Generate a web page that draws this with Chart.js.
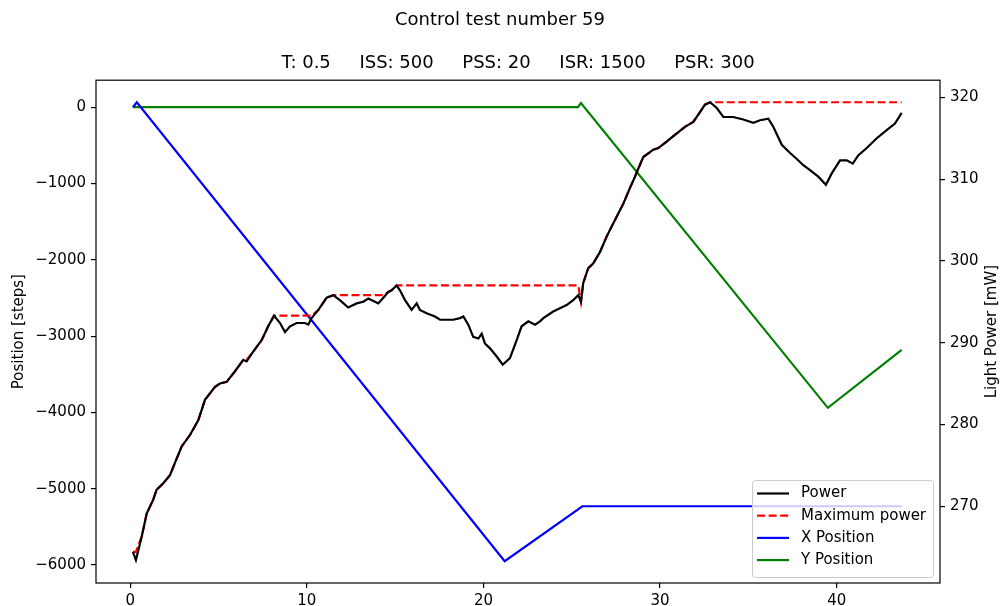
<!DOCTYPE html>
<html>
<head>
<meta charset="utf-8">
<script src="https://cdn.jsdelivr.net/npm/chart.js@4.4.0/dist/chart.umd.min.js"></script>
<style>
  html, body { margin: 0; padding: 0; background: #fff; }
  #wrap { width: 1000px; height: 606px; }
</style>
</head>
<body>
<div id="wrap"><canvas id="testChart"></canvas></div>
<script>
const chartTitle = 'Control test number 59';
const chartSubtitle = 'T: 0.5     ISS: 500     PSS: 20     ISR: 1500     PSR: 300';
const posAxisTitle = 'Position [steps]';
const powerAxisTitle = 'Light Power [mW]';

const xTicks = [0, 10, 20, 30, 40];
const posTicks = [0, -1000, -2000, -3000, -4000, -5000, -6000];
const powerTicks = [270, 280, 290, 300, 310, 320];

// power readings (right axis)
const powerTime = [0.15, 0.32, 0.65, 0.93, 1.30, 1.49, 1.87, 2.25, 2.53, 2.91,
  3.38, 3.85, 4.23, 4.80, 5.08, 5.46, 5.93, 6.40, 6.59, 6.96,
  7.44, 7.81, 8.14, 8.48, 8.76, 9.05, 9.42, 9.89, 10.08, 10.27,
  10.65, 11.12, 11.49, 11.87, 12.34, 12.82, 13.19, 13.48, 13.86, 14.04,
  14.33, 14.61, 14.80, 15.08, 15.27, 15.56, 15.93, 16.22, 16.40, 16.78,
  17.25, 17.54, 17.92, 18.29, 18.67, 18.86, 19.14, 19.42, 19.71, 19.90,
  20.08, 20.37, 20.75, 21.09, 21.50, 21.88, 22.16, 22.54, 22.92, 23.20,
  23.39, 23.95, 24.33, 24.71, 25.08, 25.37, 25.52, 25.65, 25.93, 26.22,
  26.60, 26.98, 27.26, 27.54, 27.92, 28.29, 28.58, 28.77, 29.05, 29.43,
  29.61, 29.90, 30.37, 30.84, 31.41, 31.88, 32.26, 32.54, 32.83, 33.21,
  33.58, 34.14, 34.71, 35.28, 35.66, 36.13, 36.41, 36.89, 37.36, 37.73,
  38.11, 38.49, 38.96, 39.39, 39.72, 40.19, 40.57, 40.91, 41.22, 41.70,
  42.27, 42.83, 43.30, 43.68];

const power = [264.4, 263.4, 266.3, 269.1, 270.8, 272.0, 272.8, 273.8, 275.3, 277.3,
  278.7, 280.5, 283.0, 284.6, 285.0, 285.2, 286.5, 287.9, 287.7, 288.9,
  290.3, 292.0, 293.3, 292.4, 291.3, 292.0, 292.4, 292.4, 292.2, 293.0,
  294.0, 295.5, 295.8, 295.2, 294.3, 294.8, 295.0, 295.4, 295.0, 294.8,
  295.5, 296.2, 296.4, 297.0, 296.4, 295.2, 294.0, 294.8, 294.0, 293.6,
  293.2, 292.8, 292.8, 292.8, 293.0, 293.2, 292.2, 290.7, 290.5, 291.1,
  289.9, 289.3, 288.3, 287.3, 288.1, 290.3, 292.0, 292.6, 292.2, 292.6,
  293.0, 293.8, 294.2, 294.6, 295.2, 295.8, 295.0, 297.3, 299.1, 299.7,
  301.1, 303.0, 304.2, 305.4, 307.0, 308.9, 310.3, 311.3, 312.7, 313.3,
  313.6, 313.8, 314.6, 315.4, 316.4, 317.0, 318.2, 319.1, 319.4, 318.7,
  317.6, 317.6, 317.3, 316.9, 317.2, 317.4, 316.4, 314.2, 313.2, 312.5,
  311.7, 311.1, 310.3, 309.3, 310.7, 312.3, 312.3, 311.9, 312.9, 313.8,
  315.0, 316.0, 316.8, 318.1];

const maxPower = [264.4, 264.4, 266.3, 269.1, 270.8, 272.0, 272.8, 273.8, 275.3, 277.3,
  278.7, 280.5, 283.0, 284.6, 285.0, 285.2, 286.5, 287.9, 287.9, 288.9,
  290.3, 292.0, 293.3, 293.3, 293.3, 293.3, 293.3, 293.3, 293.3, 293.3,
  294.0, 295.5, 295.8, 295.8, 295.8, 295.8, 295.8, 295.8, 295.8, 295.8,
  295.8, 296.2, 296.4, 297.0, 297.0, 297.0, 297.0, 297.0, 297.0, 297.0,
  297.0, 297.0, 297.0, 297.0, 297.0, 297.0, 297.0, 297.0, 297.0, 297.0,
  297.0, 297.0, 297.0, 297.0, 297.0, 297.0, 297.0, 297.0, 297.0, 297.0,
  297.0, 297.0, 297.0, 297.0, 297.0, 297.0, 295.0, 297.3, 299.1, 299.7,
  301.1, 303.0, 304.2, 305.4, 307.0, 308.9, 310.3, 311.3, 312.7, 313.3,
  313.6, 313.8, 314.6, 315.4, 316.4, 317.0, 318.2, 319.1, 319.4, 319.4,
  319.4, 319.4, 319.4, 319.4, 319.4, 319.4, 319.4, 319.4, 319.4, 319.4,
  319.4, 319.4, 319.4, 319.4, 319.4, 319.4, 319.4, 319.4, 319.4, 319.4,
  319.4, 319.4, 319.4, 319.4];

// stage positions (left axis)
const xPosTime = [0.15, 0.37, 21.2, 25.6, 43.68];
const xPos = [0, 65, -5950, -5230, -5230];
const yPosTime = [0.15, 25.35, 25.52, 39.5, 43.68];
const yPos = [0, 0, 55, -3940, -3180];

const FONT = "'DejaVu Sans', sans-serif";

function pairs(xs, ys) {
  return xs.map((t, i) => ({ x: t, y: ys[i] }));
}

function fmtTick(v) {
  return String(v).replace('-', '\u2212');
}

function setTicks(list) {
  return scale => { scale.ticks = list.map(v => ({ value: v })); };
}

const frame = {
  id: 'frame',
  afterDatasetsDraw(chart) {
    const { ctx, chartArea: a } = chart;
    ctx.save();
    ctx.strokeStyle = '#000';
    ctx.lineWidth = 1.2;
    ctx.strokeRect(a.left, a.top, a.right - a.left, a.bottom - a.top);
    ctx.restore();
  }
};

const legendBox = {
  id: 'legendBox',
  afterDatasetsDraw(chart) {
    const { ctx, chartArea } = chart;
    const w = 181, h = 97;
    const x0 = chartArea.right - 7 - w;
    const y0 = chartArea.bottom - 6 - h;
    ctx.save();
    ctx.beginPath();
    ctx.roundRect(x0 + 0.5, y0 + 0.5, w, h, 3);
    ctx.fillStyle = 'rgba(255,255,255,0.8)';
    ctx.fill();
    ctx.strokeStyle = '#cccccc';
    ctx.lineWidth = 1;
    ctx.stroke();
    chart.data.datasets.forEach((ds, i) => {
      const y = y0 + 13.5 + i * 22.2;
      ctx.beginPath();
      ctx.setLineDash(ds.borderDash || []);
      ctx.moveTo(x0 + 5, y);
      ctx.lineTo(x0 + 37, y);
      ctx.strokeStyle = ds.borderColor;
      ctx.lineWidth = ds.borderWidth;
      ctx.stroke();
      ctx.setLineDash([]);
      ctx.fillStyle = '#000';
      ctx.font = '15px ' + FONT;
      ctx.textBaseline = 'middle';
      ctx.fillText(ds.label, x0 + 49, y);
    });
    ctx.restore();
  }
};

// matplotlib reads the right label bottom-to-top, Chart.js would flip it
const rightTitle = {
  id: 'rightTitle',
  afterDraw(chart) {
    const { ctx, chartArea } = chart;
    ctx.save();
    ctx.translate(chart.scales.y1.right - 8, (chartArea.top + chartArea.bottom) / 2);
    ctx.rotate(-Math.PI / 2);
    ctx.textAlign = 'center';
    ctx.textBaseline = 'middle';
    ctx.fillStyle = '#000';
    ctx.font = '15px ' + FONT;
    ctx.fillText(powerAxisTitle, 0, 0);
    ctx.restore();
  }
};

const tickFont = { family: FONT, size: 15 };
const tickGrid = { drawOnChartArea: false, tickLength: 5, color: '#000', lineWidth: 1.2 };

const ctx = document.getElementById('testChart').getContext('2d');
new Chart(ctx, {
  type: 'line',
  data: {
    datasets: [
      {
        label: 'Power',
        data: pairs(powerTime, power),
        yAxisID: 'y1',
        borderColor: '#000000',
        borderWidth: 2.2
      },
      {
        label: 'Maximum power',
        data: pairs(powerTime, maxPower),
        yAxisID: 'y1',
        borderColor: '#ff0000',
        borderDash: [8, 3.6],
        borderWidth: 2.2
      },
      {
        label: 'X Position',
        data: pairs(xPosTime, xPos),
        yAxisID: 'y',
        borderColor: '#0000ff',
        borderWidth: 2.2
      },
      {
        label: 'Y Position',
        data: pairs(yPosTime, yPos),
        yAxisID: 'y',
        borderColor: '#008000',
        borderWidth: 2.2
      }
    ]
  },
  options: {
    responsive: true,
    maintainAspectRatio: false,
    animation: false,
    devicePixelRatio: 1,
    layout: { padding: 0 },
    elements: { point: { radius: 0 }, line: { tension: 0 } },
    plugins: {
      legend: { display: false },
      tooltip: { enabled: false },
      title: {
        display: true,
        text: chartTitle,
        color: '#000',
        font: { family: FONT, size: 18, weight: 'normal' },
        padding: { top: 10, bottom: 20 }
      },
      subtitle: {
        display: true,
        text: chartSubtitle,
        fullSize: false,
        color: '#000',
        font: { family: FONT, size: 18, weight: 'normal' },
        padding: { top: 1, bottom: 6 }
      }
    },
    scales: {
      x: {
        type: 'linear',
        min: -1.94,
        max: 45.85,
        afterBuildTicks: setTicks(xTicks),
        afterFit: s => { s.height = 23; },
        ticks: { font: tickFont, color: '#000', padding: 4, maxRotation: 0, callback: fmtTick },
        grid: tickGrid,
        border: { display: false }
      },
      y: {
        type: 'linear',
        position: 'left',
        min: -6236,
        max: 354,
        afterBuildTicks: setTicks(posTicks),
        afterFit: s => { s.width = 96; },
        ticks: { font: tickFont, color: '#000', padding: 5, callback: fmtTick },
        grid: tickGrid,
        border: { display: false },
        title: {
          display: true,
          text: posAxisTitle,
          color: '#000',
          font: { family: FONT, size: 15 },
          padding: { top: 10, bottom: 0 }
        }
      },
      y1: {
        type: 'linear',
        position: 'right',
        min: 260.6,
        max: 322.1,
        afterBuildTicks: setTicks(powerTicks),
        afterFit: s => { s.width = 60; },
        ticks: { font: tickFont, color: '#000', padding: 5, callback: fmtTick },
        grid: tickGrid,
        border: { display: false }
      }
    }
  },
  plugins: [frame, legendBox, rightTitle]
});
</script>
</body>
</html>
